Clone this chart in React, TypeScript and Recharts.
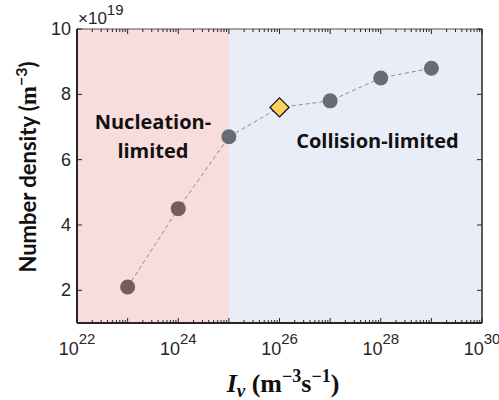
import { ComposedChart, Line, XAxis, YAxis, ReferenceArea } from 'recharts';

// nucleation rate (m^-3 s^-1) and the resulting number density (x1e19 m^-3)
const nucleationRate = [1e23, 1e24, 1e25, 1e26, 1e27, 1e28, 1e29];
const numberDensity = [2.1, 4.5, 6.7, 7.6, 7.8, 8.5, 8.8];
const markerShape = ['circle', 'circle', 'circle', 'diamond', 'circle', 'circle', 'circle'];

const yTicks = [2, 4, 6, 8, 10];
const xMajorExp = [22, 23, 24, 25, 26, 27, 28, 29, 30];
const labelledExp = [22, 24, 26, 28, 30];

// boundary between the two regimes
const regimeSplit = 1e25;

const data = nucleationRate.map((rate, i) => ({
  rate,
  density: numberDensity[i],
  shape: markerShape[i],
}));

// majors every decade + 2..9 minors
const xTicks: number[] = [];
xMajorExp.forEach((e) => {
  xTicks.push(Math.pow(10, e));
  if (e < 30) {
    for (let m = 2; m <= 9; m++) xTicks.push(m * Math.pow(10, e));
  }
});

const AXIS = '#262626';
const TICK_FONT = '"Liberation Sans", Arial, sans-serif';
const CALIBRI = 'Lato, "Open Sans", sans-serif';
const SERIF = '"Liberation Serif", "DejaVu Serif", serif';

function exponentOf(v: number) {
  const l = Math.log10(v);
  const r = Math.round(l);
  return Math.abs(l - r) < 1e-6 ? r : null;
}

const XTick = (props: any) => {
  const { x, y, payload, side } = props;
  const e = exponentOf(payload.value);
  const len = e === null ? 3 : 5;
  const dir = side === 'top' ? 1 : -1;
  return (
    <g>
      <line x1={x} x2={x} y1={y} y2={y + dir * len} stroke={AXIS} strokeWidth={1} />
      {side === 'bottom' && e !== null && labelledExp.includes(e) && (
        <text x={x} y={y + 32} textAnchor="middle" fontFamily={TICK_FONT} fontSize={18} fill={AXIS}>
          10
          <tspan dy={-11} fontSize={15}>{e}</tspan>
        </text>
      )}
    </g>
  );
};

const YTick = (props: any) => {
  const { x, y, payload, side } = props;
  const dir = side === 'left' ? 1 : -1;
  return (
    <g>
      <line x1={x} x2={x + dir * 5} y1={y} y2={y} stroke={AXIS} strokeWidth={1} />
      {side === 'left' && (
        <text x={x - 6} y={y + 6} textAnchor="end" fontFamily={TICK_FONT} fontSize={18} fill={AXIS}>
          {payload.value}
        </text>
      )}
    </g>
  );
};

const Marker = (props: any) => {
  const { cx, cy, payload, index } = props;
  if (cx == null || cy == null) return <g key={index} />;
  if (payload.shape === 'diamond') {
    const r = 9.5;
    return (
      <path
        key={index}
        d={`M${cx},${cy - r} L${cx + r},${cy} L${cx},${cy + r} L${cx - r},${cy} Z`}
        fill="#fcd25e"
        stroke="#111"
        strokeWidth={1.3}
      />
    );
  }
  const fill = payload.rate < regimeSplit + 1 ? '#765c5f' : '#686b73';
  return <circle key={index} cx={cx} cy={cy} r={7.5} fill={fill} />;
};

const regionText = {
  fontFamily: '"Open Sans", Lato, sans-serif',
  fontWeight: 700,
  fontSize: 20,
  fill: '#111',
} as const;

const NucleationLabel = (props: any) => {
  const vb = props.viewBox || {};
  const cx = vb.x + vb.width / 2;
  return (
    <g>
      <text x={cx} y={vb.y + 100} textAnchor="middle" {...regionText}>
        Nucleation-
      </text>
      <text x={cx} y={vb.y + 129} textAnchor="middle" {...regionText}>
        limited
      </text>
    </g>
  );
};

const CollisionLabel = (props: any) => {
  const vb = props.viewBox || {};
  return (
    <text x={vb.x + vb.width / 2 + 22} y={vb.y + 119} textAnchor="middle" {...regionText}>
      Collision-limited
    </text>
  );
};

export default function App() {
  return (
    <div style={{ position: 'absolute', left: 0, top: 0, background: '#fff' }}>
      <ComposedChart width={499} height={400} data={data} margin={{ top: 0, right: 0, bottom: 0, left: 0 }}>
        <XAxis
          xAxisId="bottom"
          dataKey="rate"
          type="number"
          scale="log"
          domain={[1e22, 1e30]}
          ticks={xTicks}
          interval={0}
          height={77}
          tickSize={0}
          tickMargin={0}
          axisLine={{ stroke: AXIS, strokeWidth: 2 }}
          tick={(p: any) => <XTick {...p} side="bottom" />}
          allowDataOverflow
        />
        <XAxis
          xAxisId="top"
          orientation="top"
          dataKey="rate"
          type="number"
          scale="log"
          domain={[1e22, 1e30]}
          ticks={xTicks}
          interval={0}
          height={29}
          tickSize={0}
          tickMargin={0}
          axisLine={{ stroke: '#555', strokeWidth: 1 }}
          tick={(p: any) => <XTick {...p} side="top" />}
          allowDataOverflow
        />
        <YAxis
          yAxisId="left"
          type="number"
          domain={[1, 10]}
          ticks={yTicks}
          interval={0}
          width={77}
          tickSize={0}
          tickMargin={0}
          axisLine={{ stroke: AXIS, strokeWidth: 2 }}
          tick={(p: any) => <YTick {...p} side="left" />}
          allowDataOverflow
        />
        <YAxis
          yAxisId="right"
          orientation="right"
          type="number"
          domain={[1, 10]}
          ticks={yTicks}
          interval={0}
          width={17}
          tickSize={0}
          tickMargin={0}
          axisLine={{ stroke: AXIS, strokeWidth: 1.5 }}
          tick={(p: any) => <YTick {...p} side="right" />}
          allowDataOverflow
        />
        <ReferenceArea
          xAxisId="bottom"
          yAxisId="left"
          x1={1e22}
          x2={regimeSplit}
          y1={1}
          y2={10}
          fill="#f9dcdc"
          fillOpacity={1}
          stroke="none"
          ifOverflow="hidden"
          label={{ content: NucleationLabel }}
        />
        <ReferenceArea
          xAxisId="bottom"
          yAxisId="left"
          x1={regimeSplit}
          x2={1e30}
          y1={1}
          y2={10}
          fill="#e9edf7"
          fillOpacity={1}
          stroke="none"
          ifOverflow="hidden"
          label={{ content: CollisionLabel }}
        />
        <Line
          xAxisId="bottom"
          yAxisId="left"
          dataKey="density"
          type="linear"
          stroke="#8c8c8c"
          strokeWidth={1}
          strokeDasharray="4 3"
          dot={Marker}
          activeDot={false}
          isAnimationActive={false}
        />
        {/* annotations outside the plot box */}
        <text x={78} y={24} fontFamily={TICK_FONT} fontSize={17} fill={AXIS}>
          ×10
          <tspan dy={-9} fontSize={15}>19</tspan>
        </text>
        <text
          transform="translate(36,167) rotate(-90)"
          textAnchor="middle"
          fontFamily={CALIBRI}
          fontWeight={700}
          fontSize={22}
          fill="#111"
        >
          Number density (
          <tspan fontFamily={SERIF} fontSize={23}>m</tspan>
          <tspan dy={-9} fontSize={16}>−3</tspan>
          <tspan dy={9}>)</tspan>
        </text>
        <text x={283} y={392} textAnchor="middle" fontFamily={SERIF} fontWeight={700} fontSize={26} fill="#111">
          <tspan fontStyle="italic">I</tspan>
          <tspan fontStyle="italic" fontSize={19} dy={5}>v</tspan>
          <tspan dy={-5}> (m</tspan>
          <tspan dy={-10} fontSize={18}>−3</tspan>
          <tspan dy={10}>s</tspan>
          <tspan dy={-10} fontSize={18}>−1</tspan>
          <tspan dy={10}>)</tspan>
        </text>
      </ComposedChart>
    </div>
  );
}
